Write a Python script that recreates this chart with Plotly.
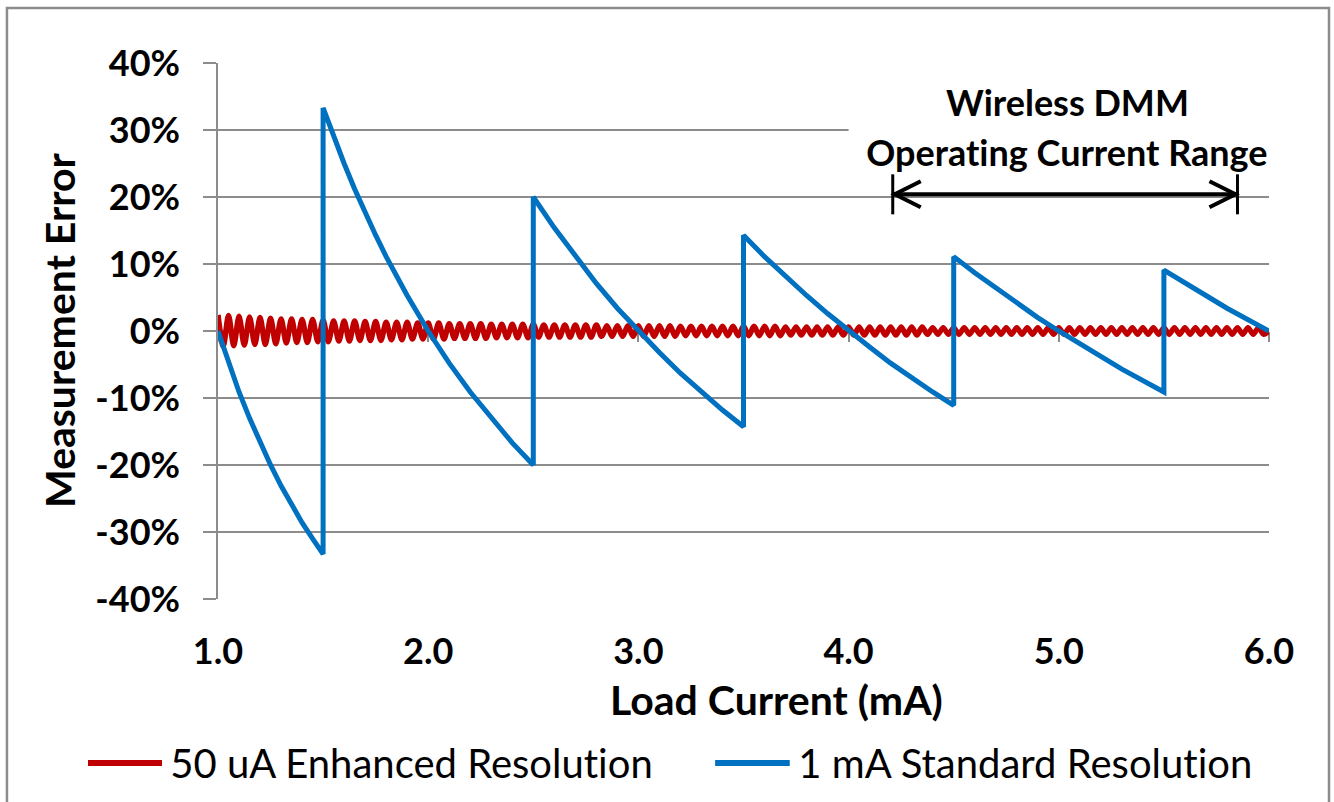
import plotly.graph_objects as go

# ---------------- data ----------------
# 1 mA Standard Resolution: measurement error (%) vs load current (mA)
blue_x = [1.0, 1.05, 1.1, 1.15, 1.2, 1.25, 1.3, 1.35, 1.4, 1.45, 1.5,
          1.5, 1.55, 1.6, 1.65, 1.7, 1.75, 1.8, 1.9, 2.0, 2.1, 2.2, 2.3, 2.4, 2.5,
          2.5, 2.6, 2.7, 2.8, 2.9, 3.0, 3.1, 3.2, 3.3, 3.4, 3.5,
          3.5, 3.6, 3.7, 3.8, 3.9, 4.0, 4.1, 4.2, 4.3, 4.4, 4.5,
          4.5, 4.6, 4.7, 4.8, 4.9, 5.0, 5.1, 5.2, 5.3, 5.4, 5.5,
          5.5, 5.6, 5.7, 5.8, 5.9, 6.0]
blue_pct = [0.0, -4.8, -9.1, -13.0, -16.7, -20.0, -23.1, -25.9, -28.6, -31.0, -33.3,
            33.3, 29.0, 25.0, 21.2, 17.6, 14.3, 11.1, 5.3, 0.0, -4.8, -9.1, -13.0, -16.7, -20.0,
            20.0, 15.4, 11.1, 7.1, 3.4, 0.0, -3.2, -6.3, -9.1, -11.8, -14.3,
            14.3, 11.1, 8.1, 5.3, 2.6, 0.0, -2.4, -4.8, -7.0, -9.1, -11.1,
            11.1, 8.7, 6.4, 4.2, 2.0, 0.0, -2.0, -3.8, -5.7, -7.4, -9.1,
            9.1, 7.1, 5.3, 3.4, 1.7, 0.0]

# 50 uA Enhanced Resolution: measurement error (%) sampled every 0.025 mA from 1.0 to 6.0
red_pct = [
    2.4, -2.3, 2.3, -2.2, 2.2, -2.1, 2.1, -2.0, 2.0, -2.0,
    1.9, -1.9, 1.8, -1.8, 1.8, -1.7, 1.7, -1.7, 1.7, -1.6,
    1.6, -1.6, 1.5, -1.5, 1.5, -1.5, 1.5, -1.4, 1.4, -1.4,
    1.4, -1.4, 1.3, -1.3, 1.3, -1.3, 1.3, -1.2, 1.2, -1.2,
    1.2, -1.2, 1.2, -1.2, 1.1, -1.1, 1.1, -1.1, 1.1, -1.1,
    1.1, -1.1, 1.0, -1.0, 1.0, -1.0, 1.0, -1.0, 1.0, -1.0,
    1.0, -0.9, 0.9, -0.9, 0.9, -0.9, 0.9, -0.9, 0.9, -0.9,
    0.9, -0.9, 0.9, -0.8, 0.8, -0.8, 0.8, -0.8, 0.8, -0.8,
    0.8, -0.8, 0.8, -0.8, 0.8, -0.8, 0.8, -0.8, 0.7, -0.7,
    0.7, -0.7, 0.7, -0.7, 0.7, -0.7, 0.7, -0.7, 0.7, -0.7,
    0.7, -0.7, 0.7, -0.7, 0.7, -0.7, 0.7, -0.7, 0.6, -0.6,
    0.6, -0.6, 0.6, -0.6, 0.6, -0.6, 0.6, -0.6, 0.6, -0.6,
    0.6, -0.6, 0.6, -0.6, 0.6, -0.6, 0.6, -0.6, 0.6, -0.6,
    0.6, -0.6, 0.6, -0.6, 0.6, -0.5, 0.5, -0.5, 0.5, -0.5,
    0.5, -0.5, 0.5, -0.5, 0.5, -0.5, 0.5, -0.5, 0.5, -0.5,
    0.5, -0.5, 0.5, -0.5, 0.5, -0.5, 0.5, -0.5, 0.5, -0.5,
    0.5, -0.5, 0.5, -0.5, 0.5, -0.5, 0.5, -0.5, 0.5, -0.5,
    0.5, -0.5, 0.5, -0.5, 0.5, -0.5, 0.5, -0.5, 0.5, -0.5,
    0.5, -0.5, 0.5, -0.5, 0.5, -0.5, 0.5, -0.5, 0.5, -0.5,
    0.5, -0.5, 0.5, -0.5, 0.5, -0.5, 0.5, -0.5, 0.5, -0.5,
    0.0]
red_x = [round(1.0 + 0.025 * i, 3) for i in range(len(red_pct))]

x_ticks = [1.0, 2.0, 3.0, 4.0, 5.0, 6.0]
x_tick_labels = ["1.0", "2.0", "3.0", "4.0", "5.0", "6.0"]
y_ticks = [-0.4, -0.3, -0.2, -0.1, 0.0, 0.1, 0.2, 0.3, 0.4]
y_tick_labels = ["-40%", "-30%", "-20%", "-10%", "0%", "10%", "20%", "30%", "40%"]

series_names = ["50 uA Enhanced Resolution", "1 mA Standard Resolution"]
range_label = ["Wireless DMM", "Operating Current Range"]
range_ends = [4.21, 5.85]   # mA
range_level = 0.204         # position of the range arrow on the error axis

# ---------------- styles ----------------
RED = "#C00000"
BLUE = "#0070C0"
GRID = "#8C8C8C"
FONT = "Lato"

fig = go.Figure()
fig.add_trace(go.Scatter(
    x=red_x, y=[v / 100 for v in red_pct], mode="lines", name=series_names[0],
    line=dict(color=RED, width=5.5, shape="spline", smoothing=0.8),
    xaxis="x2", yaxis="y", showlegend=False))
fig.add_trace(go.Scatter(
    x=blue_x, y=[v / 100 for v in blue_pct], mode="lines", name=series_names[1],
    line=dict(color=BLUE, width=5), xaxis="x2", yaxis="y", showlegend=False))

tick_font = dict(family=FONT, size=36, color="black", weight="bold")

fig.update_layout(
    width=1334, height=802,
    margin=dict(l=218, r=65, t=63, b=203),
    paper_bgcolor="white", plot_bgcolor="white",
    font=dict(family=FONT, color="black"),
    showlegend=False,
    xaxis=dict(range=[1.0, 6.0], tickvals=x_ticks, ticktext=x_tick_labels,
               showgrid=False, zeroline=False, showline=False, ticks="",
               tickfont=tick_font, ticklabelstandoff=28),
    xaxis2=dict(range=[1.0, 6.0], overlaying="x", anchor="free", position=0.5,
                tickvals=x_ticks, showticklabels=False, showgrid=False, zeroline=False,
                showline=True, linecolor=GRID, linewidth=1.5,
                ticks="outside", ticklen=10, tickwidth=1.5, tickcolor=GRID,
                layer="below traces"),
    yaxis=dict(range=[-0.4, 0.4], tickvals=y_ticks, ticktext=y_tick_labels,
               showgrid=True, gridcolor=GRID, gridwidth=1.5, zeroline=False,
               showline=True, linecolor=GRID, linewidth=1.5,
               ticks="outside", ticklen=13, tickwidth=1.5, tickcolor=GRID,
               tickfont=tick_font, ticklabelstandoff=16, layer="below traces"),
)

shapes = []
# white box behind the range label
shapes.append(dict(type="rect", xref="x", yref="y", x0=4.0, x1=6.1, y0=0.24, y1=0.37,
                   fillcolor="white", line=dict(width=0), layer="above"))
# range arrow
shapes.append(dict(type="line", xref="x", yref="y", x0=range_ends[0], x1=range_ends[1],
                   y0=range_level, y1=range_level, line=dict(color="black", width=4), layer="above"))
for i, xe in enumerate(range_ends):
    s = 1 if i == 0 else -1
    shapes.append(dict(type="path", xref="x", yref="y", xsizemode="pixel", ysizemode="pixel",
                       xanchor=xe, yanchor=range_level, path="M 0,-20 L 0,20",
                       line=dict(color="black", width=3), layer="above"))
    shapes.append(dict(type="path", xref="x", yref="y", xsizemode="pixel", ysizemode="pixel",
                       xanchor=xe, yanchor=range_level,
                       path=f"M {s*28},13 L {s*2},0 L {s*28},-13",
                       line=dict(color="black", width=4), layer="above"))
# outer chart frame
shapes.append(dict(type="rect", xref="paper", yref="paper", x0=-0.2008, x1=1.0571,
                   y0=-0.40, y1=1.1026, line=dict(color=GRID, width=2.5),
                   fillcolor="rgba(0,0,0,0)", layer="above"))
# custom legend line samples
shapes.append(dict(type="line", xref="paper", yref="paper", x0=-0.1237, x1=-0.0533,
                   y0=-0.306, y1=-0.306, line=dict(color=RED, width=6)))
shapes.append(dict(type="line", xref="paper", yref="paper", x0=0.473, x1=0.544,
                   y0=-0.306, y1=-0.306, line=dict(color=BLUE, width=6)))
fig.update_layout(shapes=shapes)

axis_title_font = dict(family=FONT, size=41, color="black", weight="bold")
note_font = dict(family=FONT, size=36, color="black", weight="bold")
legend_font = dict(family=FONT, size=40, color="black")
annotations = [
    dict(text="Load Current (mA)", xref="paper", yref="paper", x=0.531, y=-0.188,
         xanchor="center", yanchor="middle", showarrow=False, font=axis_title_font),
    dict(text="Measurement Error", xref="paper", yref="paper", x=-0.1503, y=0.502,
         xanchor="center", yanchor="middle", textangle=-90, showarrow=False, font=axis_title_font),
    dict(text=range_label[0], xref="x", yref="y", x=5.04, y=0.342,
         xanchor="center", yanchor="middle", showarrow=False, font=note_font),
    dict(text=range_label[1], xref="x", yref="y", x=5.04, y=0.267,
         xanchor="center", yanchor="middle", showarrow=False, font=note_font),
    dict(text=series_names[0], xref="paper", yref="paper", x=-0.048, y=-0.306,
         xanchor="left", yanchor="middle", showarrow=False, font=legend_font),
    dict(text=series_names[1], xref="paper", yref="paper", x=0.5495, y=-0.306,
         xanchor="left", yanchor="middle", showarrow=False, font=legend_font),
]
fig.update_layout(annotations=annotations)

post = (
    "document.body.style.margin='0px';"
    "document.body.style.overflow='hidden';"
    "var st=document.createElement('style');"
    "st.textContent='text{font-variant-ligatures:none !important;}';"
    "document.head.appendChild(st);"
)
fig.write_html("out.html", config={"displayModeBar": False}, post_script=post)
